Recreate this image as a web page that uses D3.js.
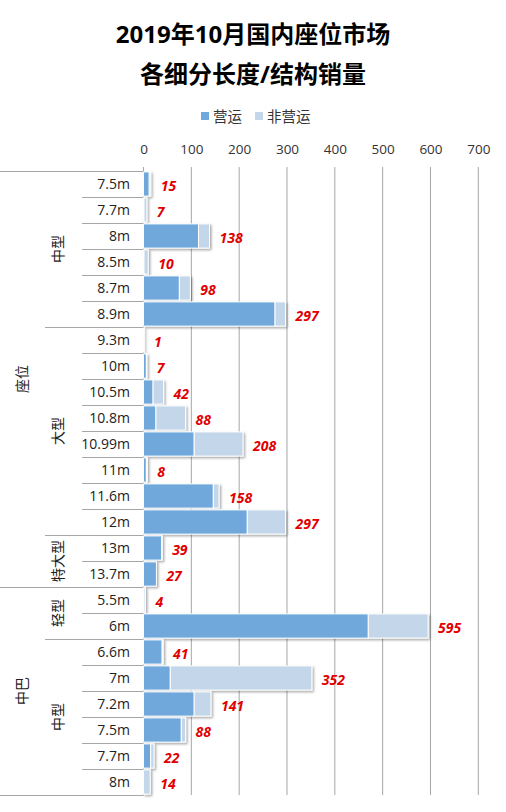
<!DOCTYPE html>
<html>
<head>
<meta charset="utf-8">
<script src="https://cdn.jsdelivr.net/npm/d3@7"></script>
<style>
  body { margin: 0; background: #fff; }
  text { font-family: "Open Sans", "Noto Sans CJK SC", sans-serif; }
</style>
</head>
<body>
<div id="chart"></div>
<script>
// data
var sizes = ["7.5m", "7.7m", "8m", "8.5m", "8.7m", "8.9m",
    "9.3m", "10m", "10.5m", "10.8m", "10.99m", "11m", "11.6m", "12m",
    "13m", "13.7m",
    "5.5m", "6m",
    "6.6m", "7m", "7.2m", "7.5m", "7.7m", "8m"];
var operating = [12, 1, 115, 1, 75, 275, 1, 6, 20, 26, 106, 6, 146, 217, 38, 27, 1, 470, 39, 56, 106, 79, 15, 0];
var nonOperating = [3, 6, 23, 9, 23, 22, 0, 1, 22, 62, 102, 2, 12, 80, 1, 0, 3, 125, 2, 296, 35, 9, 7, 14];
var subTypes = ["中型", "大型", "特大型", "轻型", "中型"];
var subCounts = [6, 8, 2, 2, 6];
var mainTypes = ["座位", "中巴"];
var mainCounts = [16, 8];
var ticks = [0, 100, 200, 300, 400, 500, 600, 700];
var seriesNames = ["营运", "非营运"];

var W = 506, H = 812;
var colors = ["#6fa8dc", "#c4d7ea"];
var gridColor = "#a6a6a6";
var plotTop = 171, plotBottom = 795, plotLeft = 143.5, plotRight = 478.3;

var svg = d3.select("#chart").append("svg").attr("width", W).attr("height", H);

var defs = svg.append("defs");
var f = defs.append("filter").attr("id", "shadow")
    .attr("x", "-10%").attr("y", "-20%").attr("width", "130%").attr("height", "160%");
f.append("feDropShadow").attr("dx", 1.5).attr("dy", 1.5).attr("stdDeviation", 1)
    .attr("flood-color", "#000").attr("flood-opacity", 0.35);

// title
var title = svg.append("g").attr("font-family", "'Noto Sans CJK SC', sans-serif")
    .attr("font-weight", "bold").attr("font-size", 24).attr("text-anchor", "middle").attr("fill", "#000");
title.append("text").attr("x", W / 2).attr("y", 43).text("2019年10月国内座位市场");
title.append("text").attr("x", W / 2).attr("y", 83).text("各细分长度/结构销量");

// legend
var legendX = [201, 255];
var lg = svg.append("g");
seriesNames.forEach(function (n, i) {
    lg.append("rect").attr("x", legendX[i]).attr("y", 112).attr("width", 8).attr("height", 8).attr("fill", colors[i]);
    lg.append("text").attr("x", legendX[i] + 12).attr("y", 121.5)
        .attr("font-family", "'Noto Sans CJK SC', sans-serif")
        .attr("font-size", 14.5).attr("fill", "#333").text(n);
});

var x = d3.scaleLinear().domain([0, 700]).range([plotLeft, plotRight]);
var idx = d3.range(sizes.length);
var y = d3.scaleBand().domain(idx).range([plotTop, plotBottom]).paddingInner(0.07).paddingOuter(0.035);
var step = (plotBottom - plotTop) / sizes.length;

// gridlines
svg.append("g").selectAll("line").data(ticks).enter().append("line")
    .attr("x1", function (d) { return x(d); }).attr("x2", function (d) { return x(d); })
    .attr("y1", 167).attr("y2", plotBottom)
    .attr("stroke", gridColor).attr("stroke-width", 1);

// top axis labels
var ax = svg.append("g").attr("transform", "translate(0," + plotTop + ")")
    .call(d3.axisTop(x).tickValues(ticks).tickSize(0).tickPadding(17));
ax.select(".domain").remove();
ax.selectAll("text").attr("font-size", 13.5).attr("fill", "#333")
    .attr("font-family", "'Open Sans', sans-serif");

// left category separators
var sep = svg.append("g").attr("stroke", gridColor).attr("stroke-width", 1);
function rowY(i) { return plotTop + i * step; }
var subStarts = [], mainStarts = [];
var acc = 0;
subCounts.forEach(function (c) { subStarts.push(acc); acc += c; });
acc = 0;
mainCounts.forEach(function (c) { mainStarts.push(acc); acc += c; });
d3.range(sizes.length + 1).forEach(function (i) {
    var x1 = 82;
    if (subStarts.indexOf(i) >= 0) x1 = 45;
    if (mainStarts.indexOf(i) >= 0 || i === sizes.length) x1 = 0;
    sep.append("line").attr("x1", x1).attr("x2", plotLeft)
        .attr("y1", Math.round(rowY(i)) + 0.5).attr("y2", Math.round(rowY(i)) + 0.5);
});

// size labels
svg.append("g").selectAll("text").data(idx).enter().append("text")
    .attr("x", 130).attr("y", function (i) { return rowY(i) + step / 2; })
    .attr("dy", "0.35em").attr("text-anchor", "end")
    .attr("font-size", 14).attr("fill", "#222")
    .attr("font-family", "'Open Sans', sans-serif")
    .text(function (i) { return sizes[i]; });

// sub type labels (rotated)
var gl = svg.append("g").attr("font-family", "'Noto Sans CJK SC', sans-serif")
    .attr("font-size", 14).attr("fill", "#222").attr("text-anchor", "middle");
subTypes.forEach(function (n, k) {
    var cy = rowY(subStarts[k] + subCounts[k] / 2);
    gl.append("text").attr("transform", "translate(58," + cy + ") rotate(-90)")
        .attr("dy", "0.35em").text(n);
});
mainTypes.forEach(function (n, k) {
    var cy = rowY(mainStarts[k] + mainCounts[k] / 2);
    gl.append("text").attr("transform", "translate(22," + cy + ") rotate(-90)")
        .attr("dy", "0.35em").text(n);
});

// axis line
svg.append("line").attr("x1", plotLeft).attr("x2", plotLeft).attr("y1", 167).attr("y2", plotBottom)
    .attr("stroke", gridColor);

// stacked bars
var rows = idx.map(function (i) { return { i: i, a: operating[i], b: nonOperating[i] }; });
var stack = d3.stack().keys(["a", "b"])(rows);
var bars = svg.append("g").attr("filter", "url(#shadow)");
stack.forEach(function (layer, li) {
    bars.selectAll(null).data(layer).enter().append("rect")
        .attr("x", function (d) { return x(d[0]); })
        .attr("y", function (d) { return y(d.data.i); })
        .attr("width", function (d) { return x(d[1]) - x(d[0]); })
        .attr("height", y.bandwidth())
        .attr("fill", colors[li])
        .attr("stroke", "#fff").attr("stroke-width", 1)
        .style("display", function (d) { return d[1] - d[0] > 0 ? null : "none"; });
});

// total labels
svg.append("g").selectAll("text").data(rows).enter().append("text")
    .attr("x", function (d) { return x(d.a + d.b) + 10; })
    .attr("y", function (d) { return y(d.i) + y.bandwidth() / 2 + 2; })
    .attr("dy", "0.35em")
    .attr("font-size", 14).attr("font-weight", "bold").attr("font-style", "italic")
    .attr("fill", "#e00000")
    .attr("font-family", "'Open Sans', sans-serif")
    .text(function (d) { return d.a + d.b; });
</script>
</body>
</html>
